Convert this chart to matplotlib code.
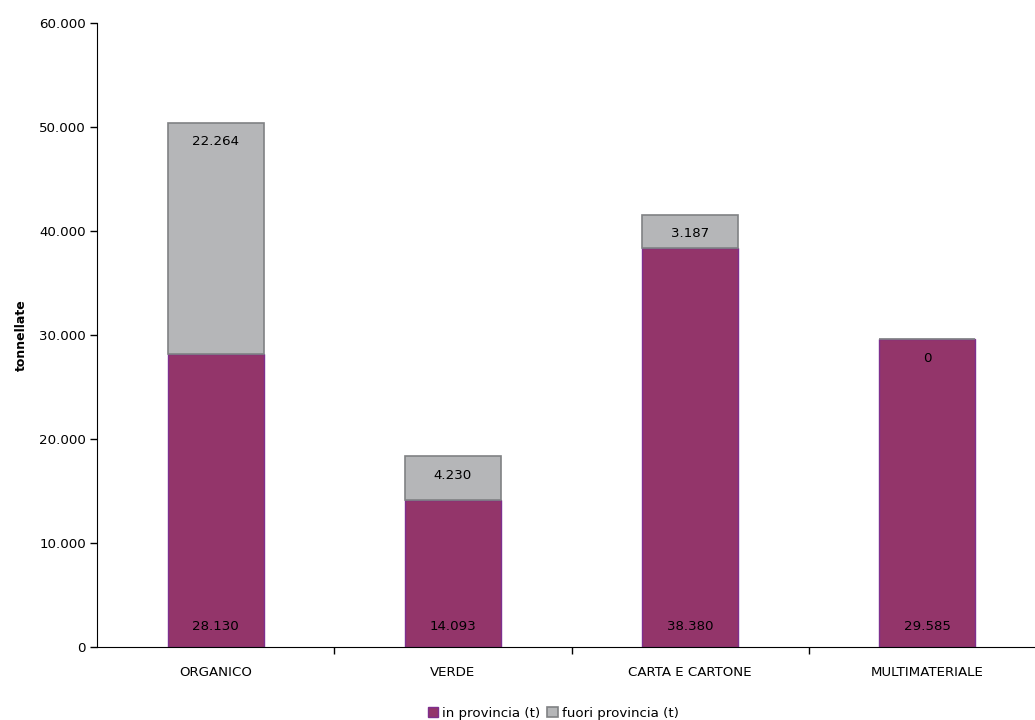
import numpy as np
import matplotlib.pyplot as plt
from matplotlib.ticker import FuncFormatter

categorie = ["ORGANICO", "VERDE", "CARTA E CARTONE", "MULTIMATERIALE"]
in_provincia = [28130, 14093, 38380, 29585]
fuori_provincia = [22264, 4230, 3187, 0]

def fmt(v):
    return f"{int(v):,}".replace(",", ".")

plt.rcParams['font.family'] = ['DejaVu Sans']
fs = 9.6
fig = plt.figure(figsize=(10.35, 7.2), dpi=100)
ax = fig.add_axes([97/1035, 1 - 647/720, 949/1035, 624/720])

x = np.arange(len(categorie))
w = 0.405
b1 = ax.bar(x, in_provincia, w, color='#93356A', edgecolor='#7E2F8E', linewidth=1, label='in provincia (t)')
b2 = ax.bar(x, fuori_provincia, w, bottom=in_provincia, color='#B5B6B8', edgecolor='#808284',
            linewidth=1.2, label='fuori provincia (t)')

for i in range(len(categorie)):
    ax.annotate(fmt(in_provincia[i]), (x[i], 0), xytext=(0, 20), textcoords='offset pixels',
                ha='center', va='center', fontsize=fs)
    top = in_provincia[i] + fuori_provincia[i]
    ax.annotate(fmt(fuori_provincia[i]), (x[i], top), xytext=(0, -19), textcoords='offset pixels',
                ha='center', va='center', fontsize=fs)

ax.set_xlim(-0.5, 3.5)
ax.set_ylim(0, 60000)
ax.set_yticks(np.arange(0, 60001, 10000))
ax.yaxis.set_major_formatter(FuncFormatter(lambda v, p: fmt(v)))
ax.set_xticks(x)
ax.set_xticklabels(categorie, fontsize=fs)
ax.set_xticks(np.arange(0.5, 3.5, 1), minor=True)
ax.tick_params(axis='x', which='major', length=0, pad=14)
ax.tick_params(axis='x', which='minor', length=5, direction='out', width=1)
ax.tick_params(axis='y', labelsize=fs, length=5, direction='out', width=1, pad=3)
ax.spines['top'].set_visible(False)
ax.spines['right'].set_visible(False)
ax.set_ylabel('tonnellate', fontsize=fs - 0.6, fontweight='bold', labelpad=8)

fig.legend(handles=[b1, b2], loc='center', bbox_to_anchor=(553/1035, 1 - 713/720), ncol=2,
           frameon=False, fontsize=fs, handlelength=0.8, handleheight=0.8, handletextpad=0.3,
           columnspacing=0.5, borderpad=0)

plt.savefig('out.png', dpi=100)
